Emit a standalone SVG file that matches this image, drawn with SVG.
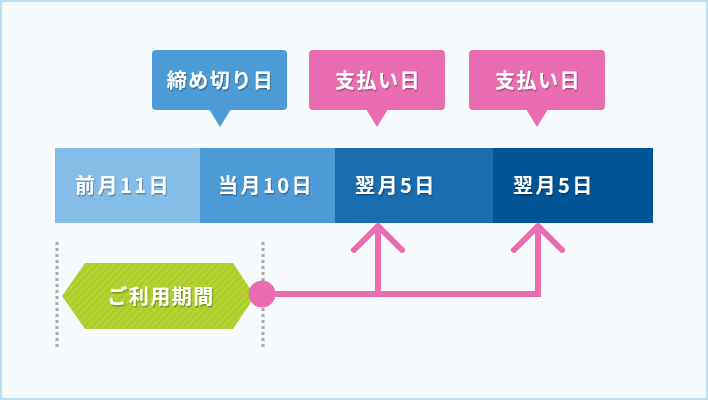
<svg xmlns="http://www.w3.org/2000/svg" width="708" height="400" viewBox="0 0 708 400">
<defs>
<filter id="sh" x="-10%" y="-20%" width="130%" height="150%">
<feDropShadow dx="1" dy="1.5" stdDeviation="0.6" flood-color="#000" flood-opacity="0.3"/>
</filter>
<pattern id="stripe" width="5" height="5" patternUnits="userSpaceOnUse" patternTransform="rotate(45)">
<rect width="5" height="5" fill="#b3d335"/>
<rect width="2" height="5" fill="#a8cb28"/>
</pattern>
</defs>
<style>
.t{font-family:"Noto Sans CJK JP","Noto Sans CJK SC",sans-serif;font-size:20px;fill:#fff;font-weight:700;letter-spacing:1.5px;filter:url(#sh)}
.b{letter-spacing:2.5px}
.c{text-anchor:middle}
.pk{fill:#eb6db1}
.bl{fill:#4d9bd6}
.ln{fill:none;stroke:#eb6db1;stroke-width:6}
.dot{stroke:#aaa;stroke-width:3;stroke-dasharray:3 3}
</style>
<rect x="1" y="1" width="706" height="398" fill="#f8fbfe" stroke="#b8def3" stroke-width="2"/>

<g id="bubble-shimekiri">
<rect class="bl" x="152" y="50" width="135" height="60" rx="4"/>
<polygon class="bl" points="209,109 231,109 220,127"/>
<text class="t c" x="220.5" y="88">締め切り日</text>
</g>
<g id="bubble-shiharai1">
<rect class="pk" x="309" y="50" width="136" height="60" rx="4"/>
<polygon class="pk" points="366,109 388,109 377,127"/>
<text class="t c" x="378" y="88">支払い日</text>
</g>
<g id="bubble-shiharai2">
<rect class="pk" x="469" y="50" width="136" height="60" rx="4"/>
<polygon class="pk" points="526,109 548,109 537,127"/>
<text class="t c" x="538" y="88">支払い日</text>
</g>

<g id="seg-zengetsu">
<rect x="55" y="148" width="145" height="75" fill="#85bde9"/>
<text class="t b" x="75" y="193">前月11日</text>
</g>
<g id="seg-tougetsu">
<rect x="200" y="148" width="135" height="75" fill="#4d9bd6"/>
<text class="t b" x="218" y="193">当月10日</text>
</g>
<g id="seg-yokugetsu1">
<rect x="335" y="148" width="158" height="75" fill="#1a6daf"/>
<text class="t b" x="355" y="193">翌月5日</text>
</g>
<g id="seg-yokugetsu2">
<rect x="493" y="148" width="160" height="75" fill="#015496"/>
<text class="t b" x="513" y="193">翌月5日</text>
</g>

<g id="period-lines">
<line class="dot" x1="57" y1="242" x2="57" y2="350"/>
<line class="dot" x1="263" y1="242" x2="263" y2="350"/>
</g>

<g id="period">
<polygon points="62,296 85,263 233,263 255,296 233,329 85,329" fill="url(#stripe)"/>
<text class="t c" x="161" y="304">ご利用期間</text>
</g>

<g id="connectors">
<polyline class="ln" points="262,294 538,294 538,226" stroke-linejoin="miter"/>
<line class="ln" x1="378" y1="294" x2="378" y2="228"/>
<polyline class="ln" points="354,250 378,226 402,250" stroke-linecap="round" stroke-linejoin="round"/>
<polyline class="ln" points="514,250 538,226 562,250" stroke-linecap="round" stroke-linejoin="round"/>
<circle class="pk" cx="262" cy="294" r="13.5"/>
</g>
</svg>
